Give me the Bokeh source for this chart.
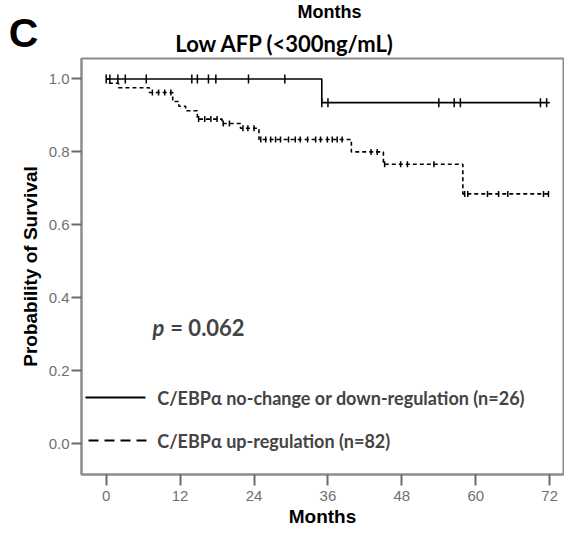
import numpy as np
from bokeh.plotting import figure
from bokeh.layouts import column
from bokeh.models import Range1d, FixedTicker, Label, PrintfTickFormatter
from bokeh.core.properties import value
from bokeh.embed import file_html
from bokeh.resources import INLINE

# ---------------- data ----------------
x_ticks = [0, 12, 24, 36, 48, 60, 72]
y_ticks = [0.0, 0.2, 0.4, 0.6, 0.8, 1.0]

# C/EBPa no-change or down-regulation (n=26)
low_times = [0, 35.0, 72]
low_surv = [1.0, 0.935, 0.935]
low_censor = [0.0, 0.6, 1.9, 3.1, 6.5, 13.9, 14.8, 16.6, 17.8, 23.1, 29.0,
              35.0, 36.0, 54.0, 56.5, 57.5, 70.5, 71.5]

# C/EBPa up-regulation (n=82)
up_times = [0, 0.5, 2.0, 7.0, 10.8, 11.8, 12.9, 14.8, 18.8, 21.8, 24.8,
            39.8, 45.0, 57.9, 72]
up_surv = [1.0, 0.988, 0.976, 0.963, 0.938, 0.925, 0.913, 0.890, 0.878,
           0.865, 0.834, 0.800, 0.766, 0.685, 0.685]
up_censor = [7.5, 8.5, 9.5, 10.5, 15.0, 16.0, 17.0, 18.0, 19.0, 20.0,
             22.2, 23.0, 24.0,
             25.1, 25.9, 26.7, 27.5, 28.3, 29.6, 30.7, 31.5, 32.7, 34.0,
             34.8, 35.9, 36.7, 37.5, 38.3,
             43.0, 44.0,
             45.2, 47.8, 48.9, 53.2,
             58.2, 58.7, 61.9, 63.7, 65.2, 71.0, 71.8]

title_text = "Low AFP (<300ng/mL)"
panel_letter = "C"
prev_label = "Months"
p_text_p = "p"
p_text_rest = "= 0.062"
leg_low = "C/EBP\u03b1 no-change or down-regulation (n=26)"
leg_up = "C/EBP\u03b1 up-regulation (n=82)"


def step_value(times, surv, t):
    idx = np.searchsorted(np.array(times), np.array(t), side="right") - 1
    return list(np.array(surv)[idx])


W = 564
HDR_H = 57
MAIN_H = 473
FONT2 = "Lato"
AX = "#8c8c8c"

# ---------------- header (panel letter + title) ----------------
hdr = figure(width=W, height=HDR_H, x_range=Range1d(0, W),
             y_range=Range1d(HDR_H, 0), min_border=0,
             x_axis_location=None, y_axis_location=None,
             output_backend="svg", toolbar_location=None)
hdr.frame_align = False
hdr.xgrid.visible = False
hdr.ygrid.visible = False
hdr.outline_line_color = None
hdr.background_fill_color = "white"
hdr.border_fill_color = "white"
hdr.text(x=[23], y=[32], text=[panel_letter], text_font=value("Liberation Sans"),
         text_font_size="41px", text_font_style="bold",
         text_align="center", text_baseline="middle", text_color="black")
hdr.text(x=[284.5], y=[42.5], text=[title_text], text_font=value(FONT2),
         text_font_size="22px", text_font_style="bold",
         text_align="center", text_baseline="middle", text_color="black")
hdr.text(x=[329], y=[1], text=[prev_label], text_font=value("Liberation Sans"),
         text_font_size="18px", text_font_style="bold",
         text_align="center", text_baseline="top", text_color="black")

# ---------------- main plot ----------------
p = figure(width=W, height=MAIN_H,
           x_range=Range1d(-4.01, 74.24), y_range=Range1d(-0.084, 1.056),
           output_backend="svg", toolbar_location=None,
           min_border_left=81, min_border_right=1,
           min_border_top=1, min_border_bottom=56)
p.frame_align = False
p.xgrid.visible = False
p.ygrid.visible = False
p.outline_line_color = AX
p.outline_line_width = 2
p.background_fill_color = "white"
p.border_fill_color = "white"

for ax in (p.xaxis[0], p.yaxis[0]):
    ax.axis_line_color = AX
    ax.axis_line_width = 2
    ax.major_tick_line_color = "#6a6a6a"
    ax.major_tick_line_width = 2
    ax.major_tick_in = 0
    ax.minor_tick_line_color = None
    ax.major_label_text_font = "Liberation Sans"
    ax.major_label_text_font_size = "15px"
    ax.major_label_text_color = "#707070"
    ax.axis_label_text_font = "Liberation Sans"
    ax.axis_label_text_font_size = "19px"
    ax.axis_label_text_font_style = "bold"
    ax.axis_label_text_color = "black"

p.xaxis.ticker = FixedTicker(ticks=x_ticks)
p.xaxis.major_tick_out = 11
p.xaxis.major_label_standoff = 5
p.xaxis.axis_label = "Months"
p.xaxis.axis_label_standoff = 2

p.yaxis.ticker = FixedTicker(ticks=y_ticks)
p.yaxis.formatter = PrintfTickFormatter(format="%.1f")
p.yaxis.major_tick_out = 10
p.yaxis.major_label_standoff = 2
p.yaxis.axis_label = "Probability of Survival"
p.yaxis.axis_label_standoff = 5

# curves
p.step(low_times, low_surv, mode="after", line_color="black", line_width=1.6)
p.step(up_times, up_surv, mode="after", line_color="black", line_width=1.6,
       line_dash="4 3")

p.scatter(low_censor, step_value(low_times, low_surv, low_censor), marker="dash",
          angle=np.pi / 2, size=9, line_color="black", line_width=1.5)
p.scatter(up_censor, step_value(up_times, up_surv, up_censor), marker="dash",
          angle=np.pi / 2, size=6, line_color="black", line_width=1.5)

# legend (drawn inside plot)
p.line([-3.36, 6.38], [0.127, 0.127], line_color="black", line_width=2)
p.line([-2.87, 6.54], [0.009, 0.009], line_color="black", line_width=2,
       line_dash="10 6")

p.add_layout(Label(x=8.3, y=0.127, text=leg_low, text_font=FONT2,
                   text_font_size="18px", text_font_style="bold",
                   text_baseline="middle", text_align="left"))
p.add_layout(Label(x=8.3, y=0.009, text=leg_up, text_font=FONT2,
                   text_font_size="18px", text_font_style="bold",
                   text_baseline="middle", text_align="left"))

# p value
p.add_layout(Label(x=7.5, y=0.32, text=p_text_p, text_font=FONT2,
                   text_font_size="22px", text_font_style="bold italic",
                   text_baseline="middle", text_align="left"))
p.add_layout(Label(x=10.4, y=0.32, text=p_text_rest, text_font=FONT2,
                   text_font_size="22px", text_font_style="bold",
                   text_baseline="middle", text_align="left"))

layout = column(hdr, p, spacing=0)
open("out.html", "w").write(file_html(layout, INLINE))
